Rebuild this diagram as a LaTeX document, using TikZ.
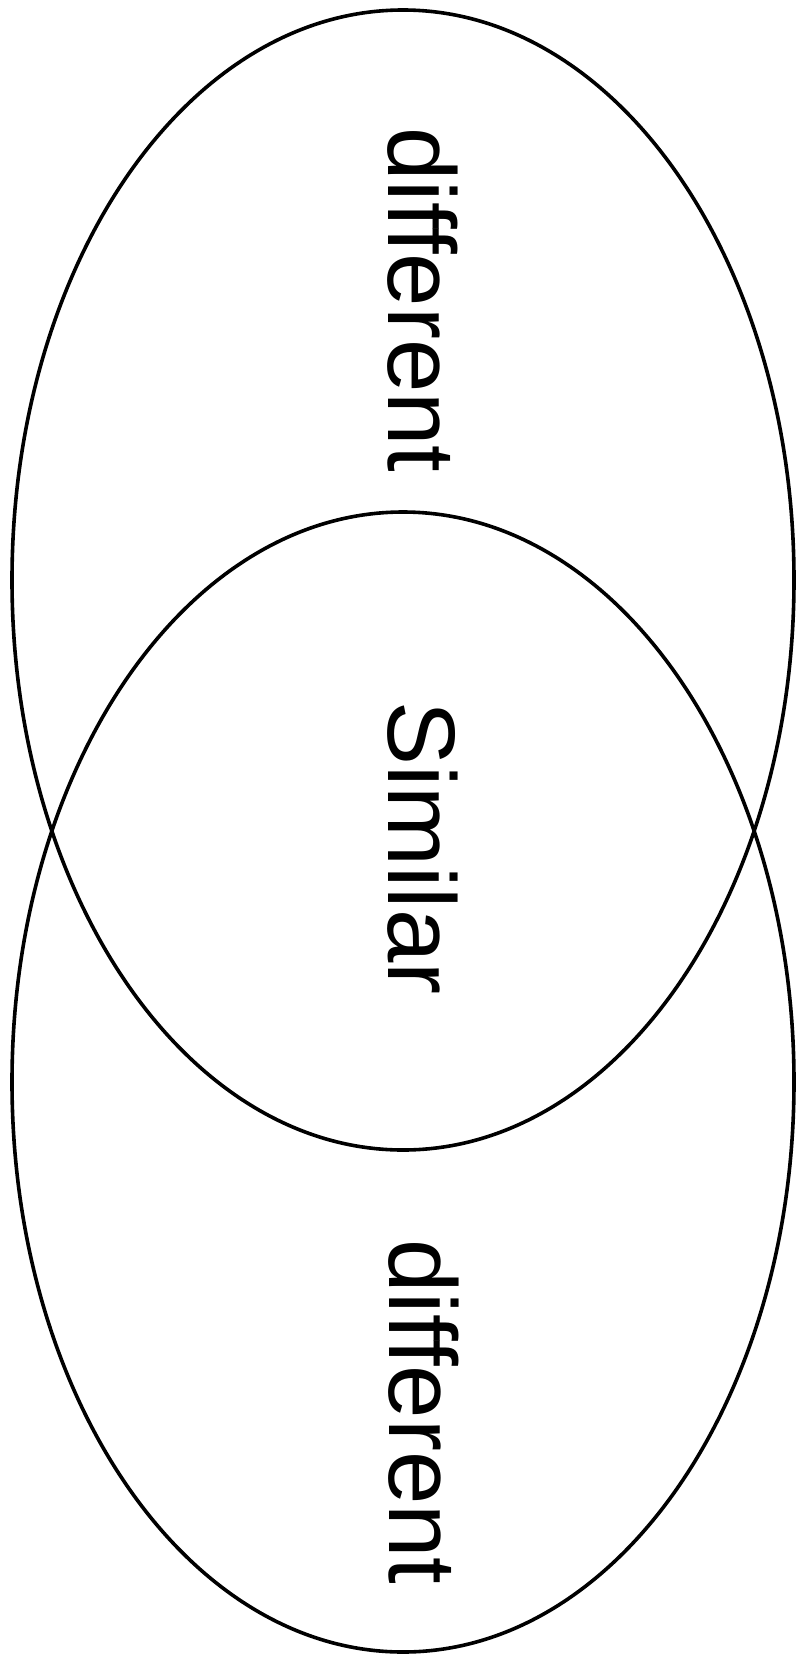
\documentclass[tikz,border=0pt]{standalone}
\usepackage{fontspec}
\setmainfont[Ligatures=NoCommon]{Liberation Sans}
\begin{document}
\begin{tikzpicture}[x=1pt,y=-1pt,
  ring/.style={draw=black,line width=3.6pt},
  label/.style={rotate=-90,anchor=base,inner sep=0pt,font=\fontsize{96}{100}\selectfont}]
\useasboundingbox (0,0) rectangle (796,1655);
\fill[white] (0,0) rectangle (796,1655);
\draw[ring] (403,580) ellipse [x radius=391, y radius=570];
\draw[ring] (403,1082) ellipse [x radius=391, y radius=570];
\node[label] (top) at (388,300) {different};
\node[label] (mid) at (388,848) {Similar};
\node[label] (bot) at (389,1412) {different};
\end{tikzpicture}
\end{document}
